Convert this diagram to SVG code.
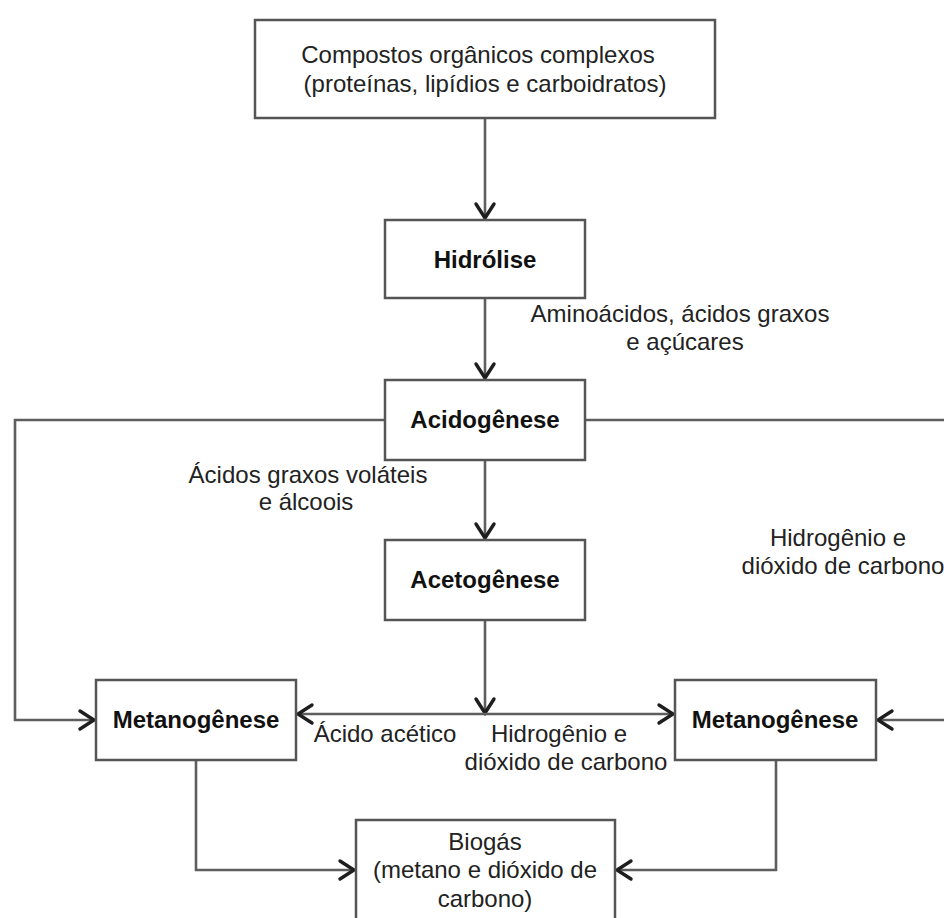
<svg xmlns="http://www.w3.org/2000/svg" width="944" height="918" viewBox="0 0 944 918">
<style>
.box{fill:#fff;stroke:#555;stroke-width:2.5}
.t{font-family:"Liberation Sans",Arial,sans-serif;font-size:24px;fill:#222;text-anchor:middle}
.b{font-weight:bold;fill:#111}
.c{fill:none;stroke:#5e5e5e;stroke-width:2.6}
</style>
<defs>
<marker id="arr" markerUnits="userSpaceOnUse" markerWidth="22" markerHeight="22" refX="15" refY="9" orient="auto" overflow="visible">
<path d="M1,0 L15,9 L1,18" fill="none" stroke="#1e1e1e" stroke-width="3.4" stroke-linejoin="miter" stroke-linecap="round"/>
</marker>
</defs>
<rect width="944" height="918" fill="#fff"/>
<g id="connectors">
<path class="c" d="M485,118 L485,218" marker-end="url(#arr)"/>
<path class="c" d="M485,298 L485,378" marker-end="url(#arr)"/>
<path class="c" d="M485,460 L485,538" marker-end="url(#arr)"/>
<path class="c" d="M385,420 L15,420 L15,720 L94,720" marker-end="url(#arr)"/>
<path class="c" d="M585,420 L960,420 L960,720 L878,720" marker-end="url(#arr)"/>
<path class="c" d="M485,620 L485,713" marker-end="url(#arr)"/>
<path class="c" d="M485,714 L298,714" marker-end="url(#arr)"/>
<path class="c" d="M485,714 L673,714" marker-end="url(#arr)"/>
<path class="c" d="M196,760 L196,870 L354,870" marker-end="url(#arr)"/>
<path class="c" d="M776,760 L776,870 L617,870" marker-end="url(#arr)"/>
<g id="labels">
<text class="t" x="680" y="322">Aminoácidos, ácidos graxos</text>
<text class="t" x="685" y="350">e açúcares</text>
<text class="t" x="308" y="483">Ácidos graxos voláteis</text>
<text class="t" x="306" y="510">e álcoois</text>
<text class="t" x="838" y="546">Hidrogênio e</text>
<text class="t" x="843" y="574">dióxido de carbono</text>
<text class="t" x="385" y="742">Ácido acético</text>
<text class="t" x="559" y="742">Hidrogênio e</text>
<text class="t" x="566" y="770">dióxido de carbono</text>
</g>
</g>
<g id="compostos">
<rect class="box" x="255" y="20" width="460" height="98"/>
<text class="t" x="478" y="63">Compostos orgânicos complexos</text>
<text class="t" x="485" y="92">(proteínas, lipídios e carboidratos)</text>
</g>
<g id="hidrolise">
<rect class="box" x="385" y="220" width="200" height="78"/>
<text class="t b" x="485" y="268">Hidrólise</text>
</g>
<g id="acidogenese">
<rect class="box" x="385" y="380" width="200" height="80"/>
<text class="t b" x="485" y="428">Acidogênese</text>
</g>
<g id="acetogenese">
<rect class="box" x="385" y="540" width="200" height="80"/>
<text class="t b" x="485" y="588">Acetogênese</text>
</g>
<g id="metanogenese-esq">
<rect class="box" x="96" y="680" width="200" height="80"/>
<text class="t b" x="196" y="728">Metanogênese</text>
</g>
<g id="metanogenese-dir">
<rect class="box" x="675" y="680" width="201" height="80"/>
<text class="t b" x="775" y="728">Metanogênese</text>
</g>
<g id="biogas">
<rect class="box" x="356" y="820" width="259" height="120"/>
<text class="t" x="485" y="850">Biogás</text>
<text class="t" x="485" y="878">(metano e dióxido de</text>
<text class="t" x="485" y="907">carbono)</text>
</g>
</svg>
